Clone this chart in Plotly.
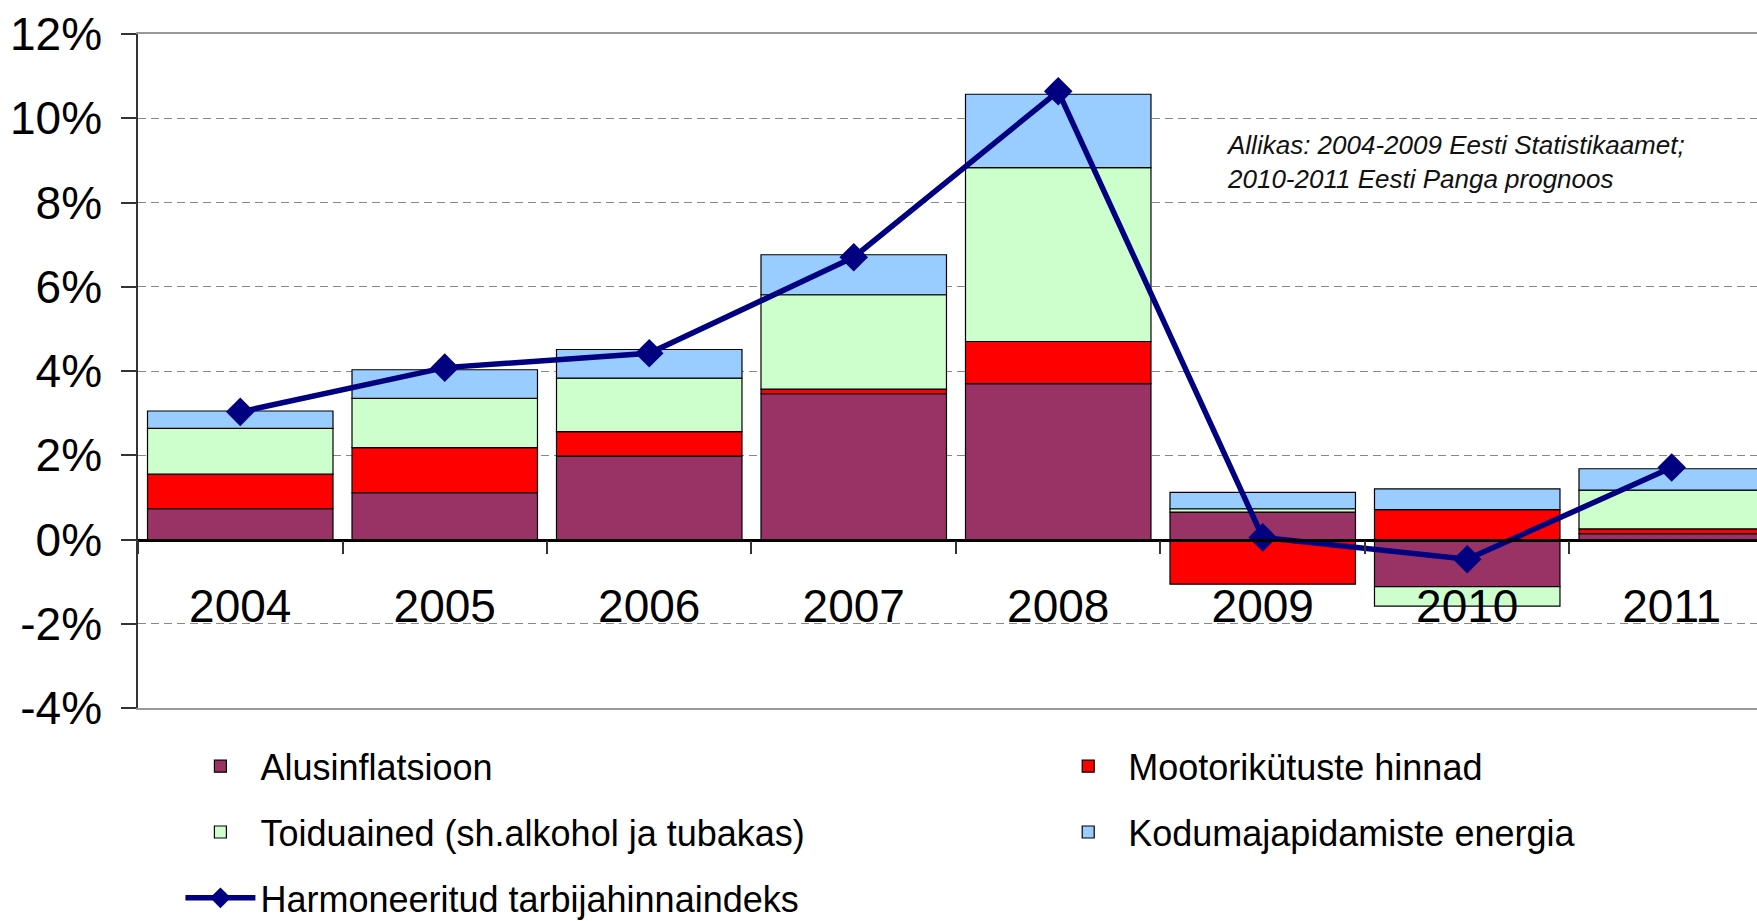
import plotly.graph_objects as go

years = ["2004", "2005", "2006", "2007", "2008", "2009", "2010", "2011"]
alusinflatsioon = [0.73, 1.11, 1.98, 3.46, 3.70, 0.65, -1.12, 0.14]
mootorikytused = [0.82, 1.07, 0.58, 0.11, 1.00, -1.06, 0.71, 0.11]
toiduained = [1.09, 1.17, 1.27, 2.24, 4.13, 0.08, -0.46, 0.92]
energia = [0.41, 0.68, 0.68, 0.95, 1.74, 0.39, 0.49, 0.51]
hicp = [3.03, 4.08, 4.42, 6.70, 10.64, 0.05, -0.47, 1.71]

y_ticks = [-4, -2, 0, 2, 4, 6, 8, 10, 12]
y_ticktext = [f"{v}%" for v in y_ticks]

names = ["Alusinflatsioon", "Mootorikütuste hinnad",
         "Toiduained (sh.alkohol ja tubakas)", "Kodumajapidamiste energia",
         "Harmoneeritud tarbijahinnaindeks"]
colors = ["#993366", "#FF0000", "#CCFFCC", "#99CCFF", "#000080"]
legend_ids = ["legend", "legend2", "legend", "legend2", "legend"]

FONT = "Liberation Sans, Arial, sans-serif"

fig = go.Figure()
for i, vals in enumerate([alusinflatsioon, mootorikytused, toiduained, energia]):
    fig.add_trace(go.Bar(
        x=years, y=vals, name=names[i],
        marker=dict(color=colors[i], line=dict(color="#000000", width=1.2)),
        legend=legend_ids[i], legendgroup=f"g{i}",
    ))

fig.add_trace(go.Scatter(
    x=years, y=hicp, name=names[4], mode="lines+markers",
    line=dict(color=colors[4], width=5.5),
    marker=dict(symbol="diamond", size=22, color=colors[4]),
    legend=legend_ids[4], legendgroup="g4",
))

# helper empty trace so the frame axis is drawn
fig.add_trace(go.Scatter(x=[], y=[], xaxis="x2", showlegend=False, hoverinfo="skip"))

fig.update_layout(
    width=1757, height=921,
    margin=dict(l=138, r=0, t=34, b=213, autoexpand=False),
    paper_bgcolor="white", plot_bgcolor="white",
    barmode="relative", bargap=0.093,
    font=dict(family=FONT, color="#000000"),
    showlegend=True,
    xaxis=dict(
        type="category", range=[-0.5, 7.417],
        anchor="free", position=0.25,
        showline=True, linecolor="#000000", linewidth=2.5,
        ticks="outside", tickson="boundaries", ticklen=13, tickwidth=1.5, tickcolor="#333333",
        ticklabelstandoff=26,
        tickfont=dict(size=46, family=FONT, color="#000000"),
        showgrid=False, zeroline=False,
    ),
    xaxis2=dict(
        overlaying="x", anchor="y", range=[-0.5, 7.417],
        showline=True, mirror=True, linecolor="#999999", linewidth=1.5,
        showticklabels=False, ticks="", showgrid=False, zeroline=False,
    ),
    yaxis=dict(
        range=[-4, 12], tickvals=y_ticks, ticktext=y_ticktext,
        showline=True, linecolor="#333333", linewidth=1.5,
        ticks="outside", ticklen=15, tickwidth=1.5, tickcolor="#333333",
        ticklabelstandoff=10,
        tickfont=dict(size=46, family=FONT, color="#000000"),
        showgrid=True, gridcolor="#888888", gridwidth=1, griddash="8px,5px",
        zeroline=False,
    ),
    legend=dict(
        orientation="v", x=0.0262, xanchor="left", y=-0.042, yanchor="top",
        traceorder="grouped", tracegroupgap=16, itemwidth=70,
        font=dict(size=36, family=FONT, color="#000000"),
        bgcolor="rgba(0,0,0,0)",
    ),
    legend2=dict(
        orientation="v", x=0.5622, xanchor="left", y=-0.042, yanchor="top",
        traceorder="grouped", tracegroupgap=16, itemwidth=70,
        font=dict(size=36, family=FONT, color="#000000"),
        bgcolor="rgba(0,0,0,0)",
    ),
    annotations=[dict(
        text="<i>Allikas: 2004-2009 Eesti Statistikaamet;<br>2010-2011 Eesti Panga prognoos</i>",
        xref="paper", yref="paper", x=0.6707, y=0.861,
        xanchor="left", yanchor="top", align="left", showarrow=False,
        font=dict(size=26, family=FONT, color="#111111"),
    )],
)

fig.write_html(
    "out.html",
    config={"displayModeBar": False},
    post_script=(
        "document.body.style.margin='0';"
        "document.body.style.overflow='hidden';"
        "document.documentElement.style.overflow='hidden';"
    ),
)
